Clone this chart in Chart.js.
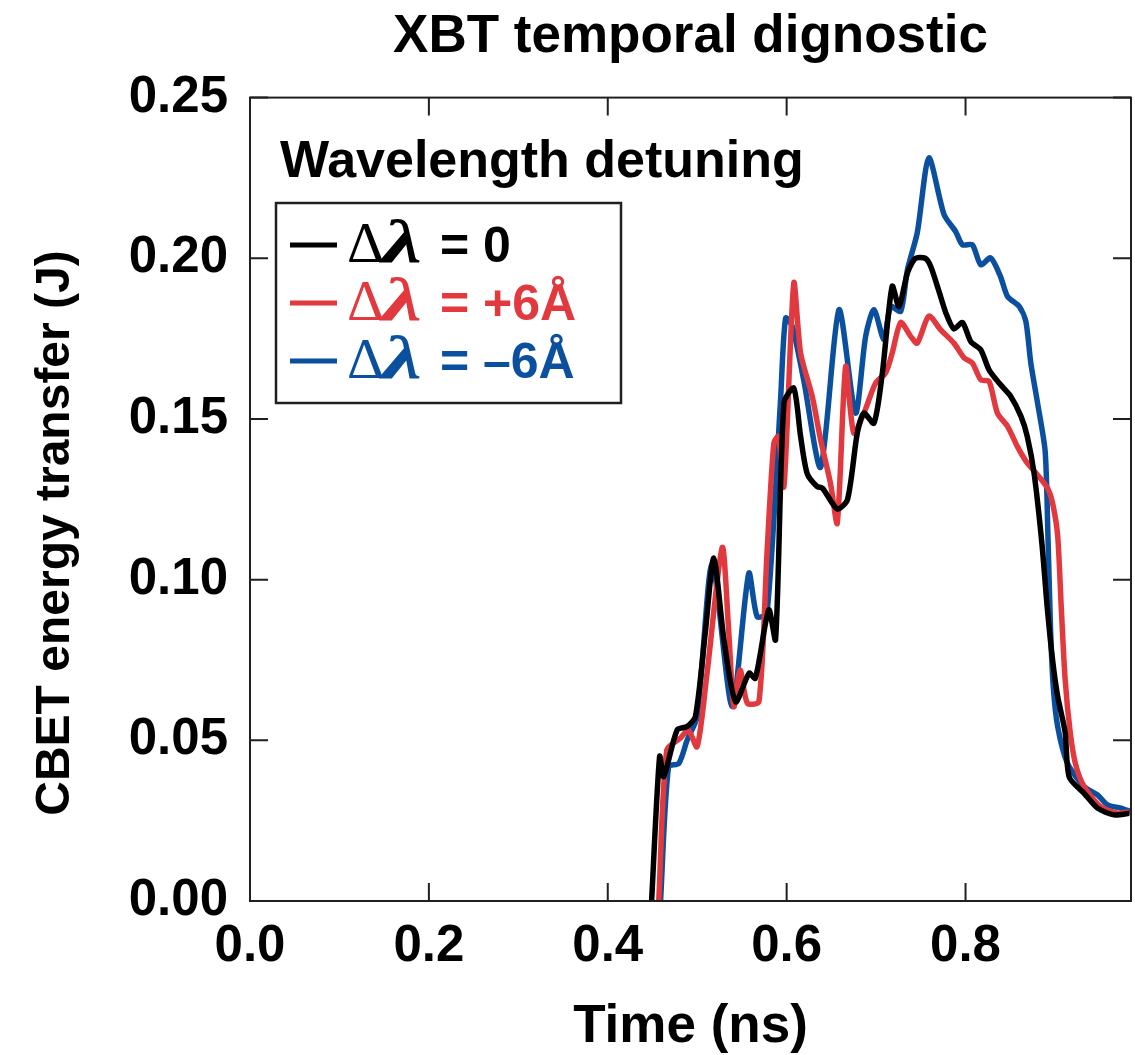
<!DOCTYPE html>
<html>
<head>
<meta charset="utf-8">
<script src="https://cdn.jsdelivr.net/npm/chart.js@4.4.1/dist/chart.umd.min.js"></script>
<style>
  html, body { margin: 0; padding: 0; background: #fff; }
  #wrap { width: 1135px; height: 1055px; }
</style>
</head>
<body>
<div id="wrap"><canvas id="xbtChart" width="1135" height="1055"></canvas></div>
<script>
// values (time in ns, energy in J)
const tZero = [0.449, 0.458, 0.4626, 0.4775, 0.4887, 0.498, 0.509, 0.5186, 0.53, 0.543, 0.558, 0.565, 0.580, 0.5876, 0.597, 0.608, 0.6156, 0.623, 0.634, 0.640, 0.6566, 0.668, 0.679, 0.6864, 0.6976, 0.707, 0.718, 0.7256, 0.735, 0.744, 0.755, 0.761, 0.770, 0.778, 0.787, 0.7965, 0.806, 0.817, 0.8263, 0.839, 0.8506, 0.862, 0.869, 0.8767, 0.8853, 0.8913, 0.8974, 0.903, 0.9113, 0.916, 0.9326, 0.9476, 0.966, 0.983];
const eZero = [0.0, 0.045, 0.0387, 0.0532, 0.0543, 0.0574, 0.0834, 0.1067, 0.081, 0.062, 0.0709, 0.0693, 0.0906, 0.0813, 0.155, 0.1596, 0.1446, 0.133, 0.129, 0.1285, 0.122, 0.1249, 0.1456, 0.1518, 0.1487, 0.1643, 0.1913, 0.185, 0.1954, 0.200, 0.200, 0.1975, 0.190, 0.183, 0.178, 0.180, 0.174, 0.1715, 0.1653, 0.1607, 0.157, 0.1508, 0.1446, 0.133, 0.1115, 0.0915, 0.0748, 0.0637, 0.0526, 0.0385, 0.0335, 0.0289, 0.0268, 0.0273];

const tPlus = [0.457, 0.466, 0.4813, 0.490, 0.4999, 0.511, 0.528, 0.535, 0.541, 0.548, 0.556, 0.569, 0.578, 0.5857, 0.591, 0.597, 0.608, 0.6156, 0.6286, 0.638, 0.649, 0.6566, 0.666, 0.675, 0.6864, 0.6995, 0.7107, 0.718, 0.7275, 0.7387, 0.746, 0.759, 0.772, 0.787, 0.7984, 0.8077, 0.817, 0.8263, 0.8357, 0.847, 0.858, 0.869, 0.8805, 0.8916, 0.8973, 0.903, 0.907, 0.9113, 0.917, 0.923, 0.9326, 0.951, 0.970, 0.983];
const ePlus = [0.0, 0.047, 0.0507, 0.0532, 0.048, 0.0709, 0.110, 0.085, 0.0605, 0.0719, 0.0616, 0.062, 0.108, 0.1425, 0.1446, 0.129, 0.1923, 0.1705, 0.157, 0.1435, 0.130, 0.1176, 0.1663, 0.1456, 0.1518, 0.1612, 0.1643, 0.1705, 0.180, 0.1757, 0.1736, 0.182, 0.1778, 0.1736, 0.169, 0.1674, 0.1622, 0.1617, 0.1518, 0.1477, 0.1414, 0.1363, 0.1326, 0.1285, 0.1238, 0.1137, 0.0915, 0.0692, 0.0526, 0.0426, 0.0356, 0.0294, 0.0273, 0.0278];

const tMinus = [0.459, 0.468, 0.4794, 0.4887, 0.4999, 0.5167, 0.539, 0.5577, 0.567, 0.578, 0.593, 0.5988, 0.6063, 0.619, 0.638, 0.6585, 0.677, 0.6883, 0.6976, 0.7088, 0.7163, 0.7275, 0.735, 0.746, 0.759, 0.776, 0.789, 0.7965, 0.8077, 0.817, 0.828, 0.839, 0.847, 0.860, 0.8674, 0.873, 0.8805, 0.889, 0.892, 0.895, 0.898, 0.903, 0.914, 0.9326, 0.9476, 0.9588, 0.9737, 0.985];
const eMinus = [0.0, 0.0418, 0.0428, 0.050, 0.0574, 0.105, 0.0605, 0.102, 0.0885, 0.0896, 0.155, 0.1814, 0.1788, 0.1622, 0.135, 0.184, 0.1518, 0.1757, 0.184, 0.1747, 0.185, 0.1835, 0.1964, 0.2079, 0.2312, 0.2136, 0.2083, 0.2042, 0.2042, 0.198, 0.2001, 0.1944, 0.1881, 0.185, 0.1804, 0.1674, 0.155, 0.14, 0.115, 0.085, 0.067, 0.0543, 0.0428, 0.0356, 0.033, 0.0299, 0.0289, 0.0278];

const seriesValues = ['0', '+6\u00c5', '\u20136\u00c5'];
const seriesColors = ['#000000', '#e2393f', '#0b4f9f'];
const xTicks = [0.0, 0.2, 0.4, 0.6, 0.8];
const yTicks = [0.00, 0.05, 0.10, 0.15, 0.20, 0.25];
const legendTitle = 'Wavelength detuning';
const yTitle = 'CBET energy transfer (J)';

const AXIS = '#231f20';
const SANS = '"Liberation Sans", Arial, Helvetica, sans-serif';
const SERIF = '"Liberation Serif", "Times New Roman", serif';

function toPoints(ts, es) {
  return ts.map((t, i) => ({ x: t, y: es[i] }));
}

// frame with inward ticks on all four sides, plus the y title
const framePlugin = {
  id: 'frame',
  afterDatasetsDraw(chart) {
    const { ctx, chartArea: a, scales } = chart;
    const len = 18;
    ctx.save();
    ctx.strokeStyle = AXIS;
    ctx.lineWidth = 2;
    ctx.strokeRect(a.left, a.top, a.right - a.left, a.bottom - a.top);
    ctx.beginPath();
    xTicks.forEach(v => {
      const x = scales.x.getPixelForValue(v);
      ctx.moveTo(x, a.bottom); ctx.lineTo(x, a.bottom - len);
      ctx.moveTo(x, a.top); ctx.lineTo(x, a.top + len);
    });
    yTicks.forEach(v => {
      const y = scales.y.getPixelForValue(v);
      ctx.moveTo(a.left, y); ctx.lineTo(a.left + len, y);
      ctx.moveTo(a.right, y); ctx.lineTo(a.right - len, y);
    });
    ctx.stroke();

    // y axis title sits a bit below the middle in the original
    ctx.translate(56, 533);
    ctx.rotate(-Math.PI / 2);
    ctx.fillStyle = '#000';
    ctx.font = 'bold 48px ' + SANS;
    ctx.textAlign = 'center';
    ctx.textBaseline = 'middle';
    ctx.fillText(yTitle, 0, 0);
    ctx.restore();
  }
};

// legend with the mixed-font delta lambda labels
const legendPlugin = {
  id: 'detuneLegend',
  afterDraw(chart) {
    const ctx = chart.ctx;
    const a = chart.chartArea;
    const left = a.left + 26;
    ctx.save();
    ctx.textBaseline = 'alphabetic';
    ctx.textAlign = 'left';
    ctx.fillStyle = '#000';
    ctx.font = 'bold 52px ' + SANS;
    ctx.fillText(legendTitle, a.left + 30, 177);

    ctx.strokeStyle = AXIS;
    ctx.lineWidth = 2.5;
    ctx.strokeRect(left, 203, 345, 200);

    chart.data.datasets.forEach((ds, i) => {
      const base = 262 + i * 58;
      const mid = base - 17;
      ctx.strokeStyle = ds.borderColor;
      ctx.lineWidth = 5;
      ctx.beginPath();
      ctx.moveTo(left + 14, mid);
      ctx.lineTo(left + 61, mid);
      ctx.stroke();

      ctx.fillStyle = ds.borderColor;
      ctx.font = '58px ' + SERIF;
      ctx.fillText('\u0394', left + 71, base);
      // the lambda in the original is a wide bold italic serif glyph
      ctx.save();
      ctx.translate(left + 106, base);
      ctx.scale(1.45, 1);
      ctx.font = 'italic bold 62px ' + SERIF;
      ctx.fillText('\u03bb', 0, 0);
      ctx.restore();
      ctx.font = 'bold 50px ' + SANS;
      ctx.fillText('=', left + 164, base);
      ctx.fillText(seriesValues[i], left + 207, base);
    });
    ctx.restore();
  }
};

const cfg = {
  type: 'line',
  data: {
    datasets: [
      { label: '\u0394\u03bb = ' + seriesValues[0], data: toPoints(tZero, eZero) },
      { label: '\u0394\u03bb = ' + seriesValues[1], data: toPoints(tPlus, ePlus) },
      { label: '\u0394\u03bb = ' + seriesValues[2], data: toPoints(tMinus, eMinus) }
    ].map((d, i) => Object.assign(d, {
      borderColor: seriesColors[i],
      backgroundColor: seriesColors[i],
      borderWidth: 5.5,
      pointRadius: 0,
      tension: 0.25,
      fill: false
    }))
  },
  options: {
    responsive: false,
    animation: false,
    layout: { padding: { left: 0, right: 4, top: 0, bottom: 0 } },
    plugins: {
      legend: { display: false },
      tooltip: { enabled: false },
      title: {
        display: true,
        text: 'XBT temporal dignostic',
        fullSize: false,
        color: '#000',
        font: { family: SANS, size: 53, weight: 'bold' },
        padding: { top: 6, bottom: 28 }
      }
    },
    scales: {
      x: {
        type: 'linear',
        min: 0,
        max: 0.985,
        grid: { display: false, drawTicks: false },
        border: { display: false },
        afterFit: s => { s.height = 154; },
        afterBuildTicks: s => { s.ticks = xTicks.map(v => ({ value: v })); },
        ticks: {
          color: '#000',
          padding: 15,
          font: { family: SANS, size: 51, weight: 'bold' },
          callback: v => v.toFixed(1)
        },
        title: {
          display: true,
          text: 'Time (ns)',
          color: '#000',
          font: { family: SANS, size: 53, weight: 'bold' },
          padding: { top: 0, bottom: -4 }
        }
      },
      y: {
        type: 'linear',
        min: 0,
        max: 0.25,
        grid: { display: false, drawTicks: false },
        border: { display: false },
        afterFit: s => { s.width = 250; },
        afterBuildTicks: s => { s.ticks = yTicks.map(v => ({ value: v })); },
        ticks: {
          color: '#000',
          padding: 22,
          font: { family: SANS, size: 51, weight: 'bold' },
          callback: v => v.toFixed(2)
        }
      }
    }
  },
  plugins: [framePlugin, legendPlugin]
};

new Chart(document.getElementById('xbtChart'), cfg);
</script>
</body>
</html>
